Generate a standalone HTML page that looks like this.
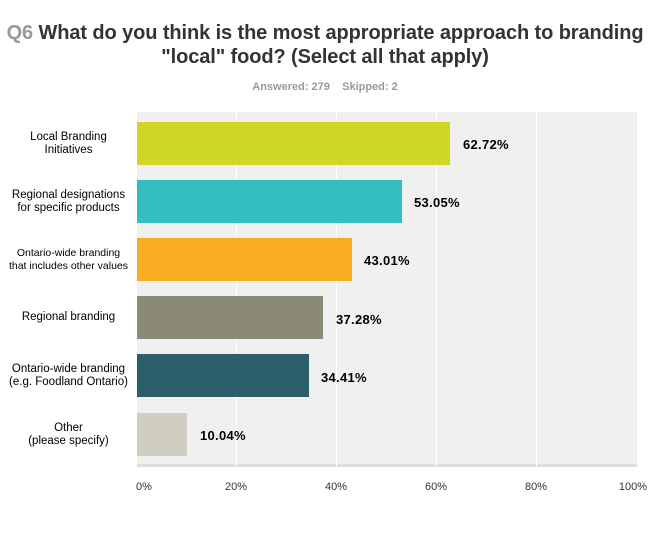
<!DOCTYPE html><html><head><style>
body{margin:0;width:650px;height:534px;background:#fff;font-family:"Liberation Sans",Arial,sans-serif;position:relative;overflow:hidden}
.t{position:absolute;left:0;width:650px;text-align:center;font-weight:bold;font-size:20px;color:#333;line-height:24px;letter-spacing:-0.1px}
.lab{position:absolute;left:0;width:137px;text-align:center;font-size:11.5px;color:#000;line-height:13px;display:flex;align-items:center;justify-content:center}
.bar{position:absolute;left:137px;height:43px}
.v{position:absolute;font-size:13px;font-weight:bold;color:#000;letter-spacing:0.3px}
.g{position:absolute;top:112px;height:354px;width:1px;background:#fff}
.tk{position:absolute;top:481px;font-size:11px;color:#333;width:40px;text-align:center}
</style></head><body>
<div class="t" style="top:21px"><span style="color:#999">Q6</span> What do you think is the most appropriate approach to branding</div>
<div class="t" style="top:45px">"local" food? (Select all that apply)</div>
<div style="position:absolute;top:81px;left:0;width:650px;text-align:center;font-size:11px;font-weight:bold;color:#999">Answered: 279 &nbsp;&nbsp; Skipped: 2</div>
<div style="position:absolute;left:137px;top:112px;width:500px;height:354px;background:#f0f0f0"></div>
<div style="position:absolute;left:137px;top:464px;width:500px;height:3px;background:#ddd"></div>
<div class="g" style="left:236px"></div><div class="g" style="left:336px"></div><div class="g" style="left:436px"></div><div class="g" style="left:536px"></div>
<div class="bar" style="top:122px;width:313px;background:#cfd626"></div>
<div class="bar" style="top:180px;width:265px;background:#34bec0"></div>
<div class="bar" style="top:238px;width:215px;background:#f7ad1f"></div>
<div class="bar" style="top:296px;width:186px;background:#8b8a77"></div>
<div class="bar" style="top:354px;width:172px;background:#2c5f6c"></div>
<div class="bar" style="top:413px;width:50px;background:#d0cec0"></div>
<div class="v" style="left:463px;top:137px">62.72%</div>
<div class="v" style="left:414px;top:195px">53.05%</div>
<div class="v" style="left:364px;top:253px">43.01%</div>
<div class="v" style="left:336px;top:312px">37.28%</div>
<div class="v" style="left:321px;top:370px">34.41%</div>
<div class="v" style="left:200px;top:428px">10.04%</div>
<div class="lab" style="top:122px;height:43px">Local Branding<br>Initiatives</div>
<div class="lab" style="top:180px;height:43px">Regional designations<br>for specific products</div>
<div class="lab" style="top:238px;height:43px;font-size:10.5px">Ontario-wide branding<br>that includes other values</div>
<div class="lab" style="top:296px;height:43px">Regional branding</div>
<div class="lab" style="top:354px;height:43px">Ontario-wide branding<br>(e.g. Foodland Ontario)</div>
<div class="lab" style="top:413px;height:43px">Other<br>(please specify)</div>
<div class="tk" style="left:124px">0%</div><div class="tk" style="left:216px">20%</div><div class="tk" style="left:316px">40%</div><div class="tk" style="left:416px">60%</div><div class="tk" style="left:516px">80%</div><div class="tk" style="left:613px">100%</div>
</body></html>
